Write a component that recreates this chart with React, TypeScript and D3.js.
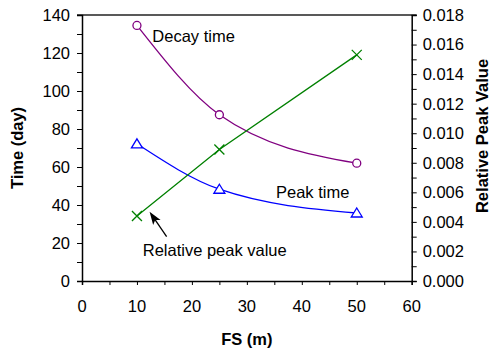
import React, { useEffect, useRef } from 'react'
import * as d3 from 'd3'

// FS (m) values
const fsValues = [10, 25, 50]
// Time (day)
const decayTime = [134.5, 87.5, 62]
const peakTime = [72.2, 48.3, 35.8]
// relative peak value (right axis)
const relPeak = [0.0044, 0.0089, 0.0153]

const xTicks = [0, 10, 20, 30, 40, 50, 60]
const leftTicks = [0, 20, 40, 60, 80, 100, 120, 140]
const rightTicks = [0, 0.002, 0.004, 0.006, 0.008, 0.01, 0.012, 0.014, 0.016, 0.018]

const App = () => {
  const svgRef = useRef<SVGSVGElement>(null)

  useEffect(() => {
    const width = 490
    const height = 353
    const left = 82, right = 411.7, top = 15, bottom = 281
    const font = '"Liberation Sans", Arial, sans-serif'
    const fs = 16.5

    const svg = d3.select(svgRef.current)
      .attr('width', width)
      .attr('height', height)
    svg.selectAll('*').remove()

    const x = d3.scaleLinear().domain([0, 60]).range([left, right])
    const yL = d3.scaleLinear().domain([0, 140]).range([bottom, top])
    const yR = d3.scaleLinear().domain([0, 0.018]).range([bottom, top])

    //top border
    svg.append('line')
      .attr('x1', left - 5).attr('x2', right + 5)
      .attr('y1', top).attr('y2', top)
      .attr('stroke', '#222').attr('stroke-width', 1.5)

    //axes
    const gx = svg.append('g').attr('transform', `translate(0,${bottom})`)
      .call(d3.axisBottom(x).tickValues(d3.range(0, 61, 5)).tickSize(4).tickFormat(() => ''))
    const gl = svg.append('g').attr('transform', `translate(${left},0)`)
      .call(d3.axisLeft(yL).tickValues(d3.range(0, 141, 10)).tickSize(5).tickFormat(() => ''))
    const gr = svg.append('g').attr('transform', `translate(${right},0)`)
      .call(d3.axisRight(yR).tickValues(d3.range(0, 19).map(d => d * 0.001)).tickSize(5).tickFormat(() => ''))
    ;[gx, gl, gr].forEach(g => {
      g.select('.domain').attr('stroke', '#000').attr('stroke-width', 1.5)
      g.selectAll('.tick line').attr('stroke', '#000').attr('stroke-width', 1)
    })

    //tick labels
    svg.append('g').selectAll('text').data(xTicks).join('text')
      .attr('x', d => x(d)).attr('y', 312)
      .attr('text-anchor', 'middle')
      .style('font-family', font).style('font-size', fs + 'px')
      .text(d => d)
    svg.append('g').selectAll('text').data(leftTicks).join('text')
      .attr('x', left - 12).attr('y', d => yL(d)).attr('dy', '0.36em')
      .attr('text-anchor', 'end')
      .style('font-family', font).style('font-size', fs + 'px')
      .text(d => d)
    svg.append('g').selectAll('text').data(rightTicks).join('text')
      .attr('x', right + 11).attr('y', d => yR(d)).attr('dy', '0.36em')
      .style('font-family', font).style('font-size', fs + 'px')
      .text(d => d3.format('.3f')(d))

    //axis titles
    svg.append('text')
      .attr('transform', `translate(23,${(top + bottom) / 2}) rotate(-90)`)
      .attr('text-anchor', 'middle')
      .style('font-family', font).style('font-size', fs + 'px').style('font-weight', 'bold')
      .text('Time (day)')
    svg.append('text')
      .attr('transform', `translate(488,136) rotate(-90)`)
      .attr('text-anchor', 'middle')
      .style('font-family', font).style('font-size', fs + 'px').style('font-weight', 'bold')
      .text('Relative Peak Value')
    svg.append('text')
      .attr('x', (left + right) / 2).attr('y', 345)
      .attr('text-anchor', 'middle')
      .style('font-family', font).style('font-size', fs + 'px').style('font-weight', 'bold')
      .text('FS (m)')

    //lines
    const smooth = (ys: number[]) => d3.line<number>()
      .x((_, i) => x(fsValues[i]))
      .y(d => yL(d))
      .curve(d3.curveMonotoneX)(ys)

    svg.append('path').attr('d', smooth(decayTime))
      .attr('fill', 'none').attr('stroke', '#800080').attr('stroke-width', 1.3)
    svg.append('path').attr('d', smooth(peakTime))
      .attr('fill', 'none').attr('stroke', '#0000ff').attr('stroke-width', 1.3)
    svg.append('path')
      .attr('d', d3.line<number>().x((_, i) => x(fsValues[i])).y(d => yR(d))(relPeak))
      .attr('fill', 'none').attr('stroke', '#008000').attr('stroke-width', 1.3)

    //markers
    svg.append('g').selectAll('circle').data(decayTime).join('circle')
      .attr('cx', (_, i) => x(fsValues[i])).attr('cy', d => yL(d)).attr('r', 4)
      .attr('fill', '#fff').attr('stroke', '#800080').attr('stroke-width', 1.3)
    svg.append('g').selectAll('path').data(peakTime).join('path')
      .attr('transform', (d, i) => `translate(${x(fsValues[i])},${yL(d)})`)
      .attr('d', 'M0,-5L5.5,4L-5.5,4Z')
      .attr('fill', '#fff').attr('stroke', '#0000ff').attr('stroke-width', 1.3)
    svg.append('g').selectAll('path').data(relPeak).join('path')
      .attr('transform', (d, i) => `translate(${x(fsValues[i])},${yR(d)})`)
      .attr('d', 'M-5,-5L5,5M-5,5L5,-5')
      .attr('fill', 'none').attr('stroke', '#008000').attr('stroke-width', 1.3)

    //annotations
    const label = (t: string, fx: number, fy: number) =>
      svg.append('text').attr('x', x(fx)).attr('y', yL(fy))
        .style('font-family', font).style('font-size', fs + 'px')
        .text(t)
    label('Decay time', 12.8, 126)
    label('Peak time', 35.3, 43.5)
    label('Relative peak value', 11.05, 13.3)

    //arrow
    const tip: [number, number] = [x(12.3), yL(36.5)]
    const tail: [number, number] = [x(15.4), yL(23.3)]
    const ang = Math.atan2(tip[1] - tail[1], tip[0] - tail[0])
    svg.append('line')
      .attr('x1', tail[0]).attr('y1', tail[1]).attr('x2', tip[0] - 6 * Math.cos(ang)).attr('y2', tip[1] - 6 * Math.sin(ang))
      .attr('stroke', '#000').attr('stroke-width', 1.3)
    svg.append('path')
      .attr('transform', `translate(${tip[0]},${tip[1]}) rotate(${ang * 180 / Math.PI})`)
      .attr('d', 'M0,0L-13,-4.5L-10,0L-13,4.5Z')
      .attr('fill', '#000')
  }, [])

  return (
    <svg ref={svgRef} style={{ position: 'absolute', left: 0, top: 0 }}></svg>
  )
}

export default App
